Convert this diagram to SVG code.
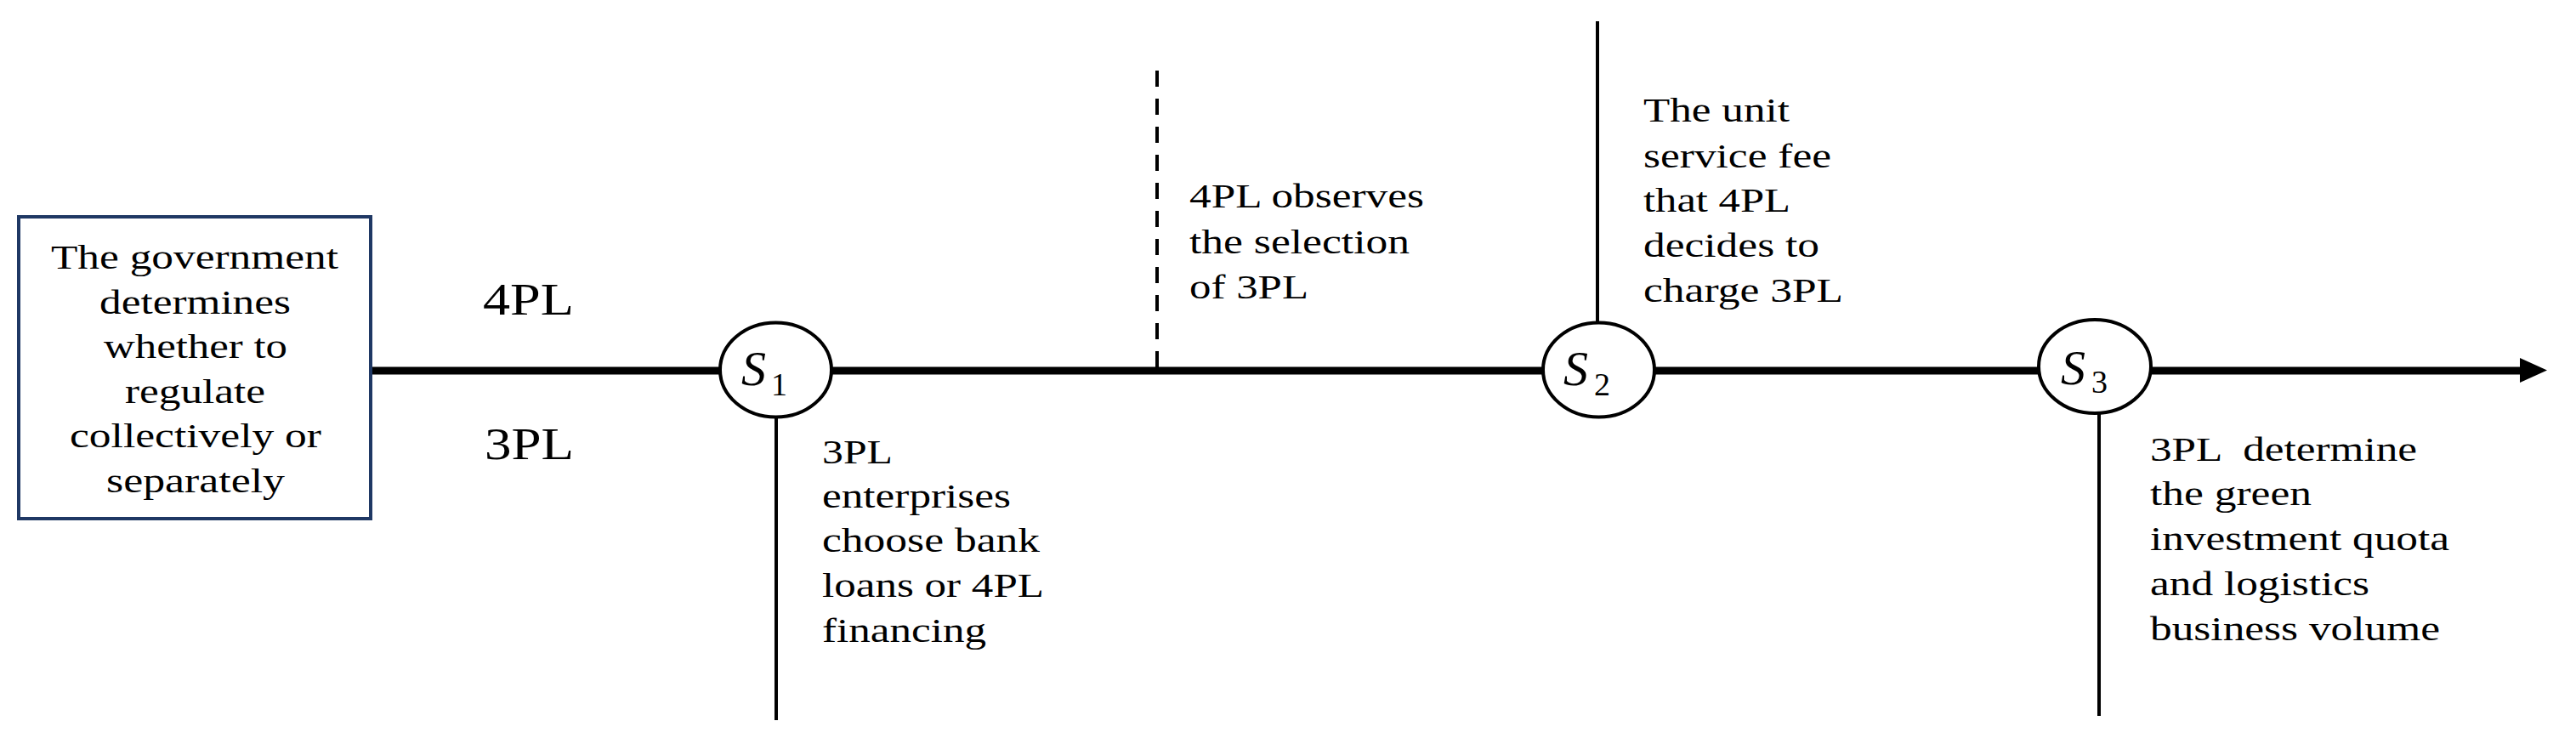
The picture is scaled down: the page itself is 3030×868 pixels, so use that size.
<svg xmlns="http://www.w3.org/2000/svg" width="3030" height="868" viewBox="0 0 3030 868">
<style>
.t{font-family:"Liberation Serif","Times New Roman",serif;font-size:41px;fill:#000;white-space:pre}
.big{font-family:"Liberation Serif","Times New Roman",serif;font-size:53px;fill:#000}
.s{font-family:"Liberation Serif","Times New Roman",serif;font-style:italic;font-size:58px;fill:#000}
.sub{font-family:"Liberation Serif","Times New Roman",serif;font-size:38px;fill:#000}
.node{fill:#fff;stroke:#000;stroke-width:4}
.main{stroke:#000;stroke-width:9;fill:none}
.tick{stroke:#000;stroke-width:4;fill:none}
.dash{stroke:#000;stroke-width:4;fill:none;stroke-dasharray:19 14}
</style>
<rect width="3030" height="868" fill="#fff"/>
<g id="connectors">
  <line class="main" x1="438" y1="436" x2="2966" y2="436"/>
  <polygon points="2964,421 2996,435.5 2964,450" fill="#000"/>
  <line class="tick" x1="913" y1="490" x2="913" y2="847"/>
  <line class="tick" x1="1879" y1="25" x2="1879" y2="380"/>
  <line class="tick" x1="2469" y1="486" x2="2469" y2="842"/>
  <line class="dash" x1="1361" y1="83" x2="1361" y2="433"/>
</g>
<g id="government">
  <rect x="22" y="255" width="414" height="355" fill="#fff" stroke="#1F3864" stroke-width="4"/>
  <text class="t" x="60" y="316" textLength="338" lengthAdjust="spacingAndGlyphs">The government</text>
  <text class="t" x="117" y="368.5" textLength="225" lengthAdjust="spacingAndGlyphs">determines</text>
  <text class="t" x="122" y="421" textLength="216" lengthAdjust="spacingAndGlyphs">whether to</text>
  <text class="t" x="147" y="473.5" textLength="165" lengthAdjust="spacingAndGlyphs">regulate</text>
  <text class="t" x="82" y="526" textLength="296" lengthAdjust="spacingAndGlyphs">collectively or</text>
  <text class="t" x="125" y="578.5" textLength="210" lengthAdjust="spacingAndGlyphs">separately</text>
</g>
<g id="players">
  <text class="big" x="568" y="370" textLength="107" lengthAdjust="spacingAndGlyphs">4PL</text>
  <text class="big" x="570" y="540" textLength="105" lengthAdjust="spacingAndGlyphs">3PL</text>
</g>
<g id="s1">
  <ellipse class="node" cx="912.5" cy="435" rx="65.5" ry="55.5"/>
  <text class="s" x="872" y="453">S</text>
  <text class="sub" x="907" y="465">1</text>
</g>
<g id="s2">
  <ellipse class="node" cx="1880.5" cy="435" rx="65.5" ry="55.5"/>
  <text class="s" x="1839" y="453">S</text>
  <text class="sub" x="1875" y="465">2</text>
</g>
<g id="s3">
  <ellipse class="node" cx="2464" cy="431" rx="66" ry="55"/>
  <text class="s" x="2424" y="452">S</text>
  <text class="sub" x="2460" y="462">3</text>
</g>
<g id="s1-label">
  <text class="t" x="967" y="545" textLength="83" lengthAdjust="spacingAndGlyphs">3PL</text>
  <text class="t" x="967" y="597" textLength="222" lengthAdjust="spacingAndGlyphs">enterprises</text>
  <text class="t" x="967" y="649" textLength="256" lengthAdjust="spacingAndGlyphs">choose bank</text>
  <text class="t" x="967" y="702" textLength="261" lengthAdjust="spacingAndGlyphs">loans or 4PL</text>
  <text class="t" x="967" y="755" textLength="193" lengthAdjust="spacingAndGlyphs">financing</text>
</g>
<g id="observe-label">
  <text class="t" x="1399" y="244" textLength="276" lengthAdjust="spacingAndGlyphs">4PL observes</text>
  <text class="t" x="1399" y="298" textLength="259" lengthAdjust="spacingAndGlyphs">the selection</text>
  <text class="t" x="1399" y="351" textLength="140" lengthAdjust="spacingAndGlyphs">of 3PL</text>
</g>
<g id="s2-label">
  <text class="t" x="1933" y="143" textLength="172" lengthAdjust="spacingAndGlyphs">The unit</text>
  <text class="t" x="1933" y="197" textLength="221" lengthAdjust="spacingAndGlyphs">service fee</text>
  <text class="t" x="1933" y="249" textLength="173" lengthAdjust="spacingAndGlyphs">that 4PL</text>
  <text class="t" x="1933" y="302" textLength="207" lengthAdjust="spacingAndGlyphs">decides to</text>
  <text class="t" x="1933" y="355" textLength="235" lengthAdjust="spacingAndGlyphs">charge 3PL</text>
</g>
<g id="s3-label">
  <text class="t" x="2529" y="542" textLength="314" lengthAdjust="spacingAndGlyphs">3PL  determine</text>
  <text class="t" x="2529" y="594" textLength="190" lengthAdjust="spacingAndGlyphs">the green</text>
  <text class="t" x="2529" y="647" textLength="352" lengthAdjust="spacingAndGlyphs">investment quota</text>
  <text class="t" x="2529" y="700" textLength="258" lengthAdjust="spacingAndGlyphs">and logistics</text>
  <text class="t" x="2529" y="753" textLength="341" lengthAdjust="spacingAndGlyphs">business volume</text>
</g>
</svg>
